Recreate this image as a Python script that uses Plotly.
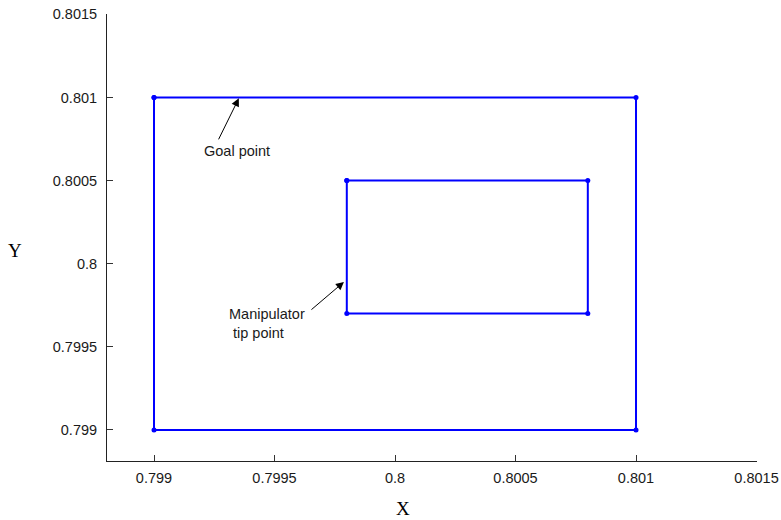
import plotly.graph_objects as go

# Data
outer_x = [0.799, 0.801, 0.801, 0.799, 0.799]
outer_y = [0.801, 0.801, 0.799, 0.799, 0.801]
inner_x = [0.7998, 0.8008, 0.8008, 0.7998, 0.7998]
inner_y = [0.8005, 0.8005, 0.7997, 0.7997, 0.8005]
x_ticks = [0.799, 0.7995, 0.8, 0.8005, 0.801, 0.8015]
x_tick_labels = ["0.799", "0.7995", "0.8", "0.8005", "0.801", "0.8015"]
y_ticks = [0.799, 0.7995, 0.8, 0.8005, 0.801, 0.8015]
y_tick_labels = ["0.799", "0.7995", "0.8", "0.8005", "0.801", "0.8015"]

blue = "rgb(0,0,255)"
fig = go.Figure()
for xs, ys in [(outer_x, outer_y), (inner_x, inner_y)]:
    fig.add_trace(go.Scatter(x=xs, y=ys, mode="lines+markers",
                             line=dict(color=blue, width=2),
                             marker=dict(color=blue, size=5),
                             showlegend=False, hoverinfo="skip"))

axis_common = dict(showgrid=False, zeroline=False, showline=True,
                   linecolor="#222222", linewidth=1, ticks="inside",
                   ticklen=6, tickcolor="#333333", mirror=False, automargin=False,
                   tickfont=dict(family="Liberation Sans, Arial", size=14.5, color="#1a1a1a"))

fig.update_layout(
    width=781, height=520,
    margin=dict(l=107, r=24, t=14, b=59),
    plot_bgcolor="white", paper_bgcolor="white",
    xaxis=dict(range=[0.798805, 0.801502], tickvals=x_ticks, ticktext=x_tick_labels,
               ticklabelstandoff=4, **axis_common),
    yaxis=dict(range=[0.798813, 0.801502], tickvals=y_ticks, ticktext=y_tick_labels,
               ticklabelstandoff=6, **axis_common),
)

arrow = dict(showarrow=True, arrowhead=2, arrowsize=1.6, arrowwidth=1,
             arrowcolor="black", axref="x", ayref="y", text="")
fig.add_annotation(x=0.799352, y=0.800995, ax=0.799265, ay=0.800739, **arrow)
fig.add_annotation(x=0.799788, y=0.799890, ax=0.799647, ay=0.799716, **arrow)

txt = dict(showarrow=False, font=dict(family="Liberation Sans, Arial", size=14.5, color="#1a1a1a"))
fig.add_annotation(x=0.799344, y=0.800679, text="Goal point", **txt)
fig.add_annotation(x=0.799303, y=0.799638, text="Manipulator<br>&nbsp;tip point",
                   align="left", xanchor="left", **txt)

fig.add_annotation(xref="paper", yref="paper", x=(403-107)/650, y=-(508-461)/447,
                   text="X", showarrow=False, yanchor="middle", xanchor="center",
                   font=dict(family="Liberation Serif, Times New Roman", size=19, color="black"))
fig.add_annotation(xref="paper", yref="paper", x=-(107-15)/650, y=(461-250)/447,
                   text="Y", showarrow=False, xanchor="center", yanchor="middle",
                   font=dict(family="Liberation Serif, Times New Roman", size=19, color="black"))

fig.write_html("out.html", config={"displayModeBar": False},
               post_script="document.body.style.margin='0';document.body.style.overflow='hidden';")
